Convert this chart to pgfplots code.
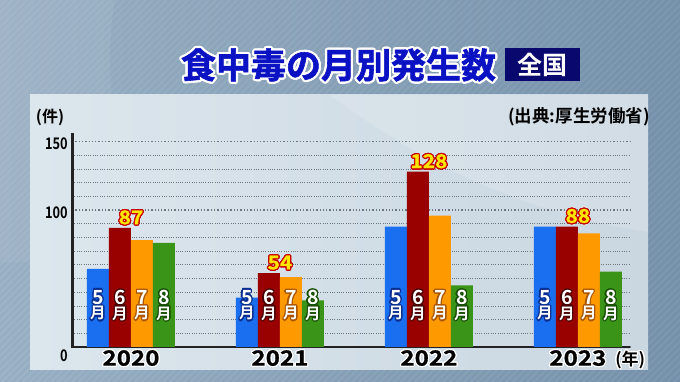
\documentclass[border=0pt]{standalone}
\usepackage{pgfplots}
\pgfplotsset{compat=1.18}
\usepackage{fontspec}
\usepackage{contour}
\newfontfamily\jp{Noto Sans CJK JP}
\newfontfamily\jpb{Noto Sans CJK JP Bold}
\newfontfamily\jpt{Noto Sans CJK JP Bold}[FakeBold=1.6]
\newfontfamily\jpy{Noto Sans CJK JP Bold}[FakeBold=0.8]
\definecolor{bgL}{HTML}{98AFC3}
\definecolor{bgR}{HTML}{7490AA}
\definecolor{panL}{HTML}{DCE6ED}
\definecolor{panR}{HTML}{CAD7E1}
\definecolor{titleblue}{HTML}{0A12C4}
\definecolor{navy}{HTML}{08086E}
\definecolor{axisc}{HTML}{222222}
\definecolor{gridc}{HTML}{6E7780}
\definecolor{cA}{HTML}{1A6FF0}
\definecolor{cB}{HTML}{990000}
\definecolor{cC}{HTML}{FF9900}
\definecolor{cD}{HTML}{3A9418}
\definecolor{cAd}{HTML}{0A2E90}
\definecolor{cBd}{HTML}{4A0000}
\definecolor{cCd}{HTML}{A85400}
\definecolor{cDd}{HTML}{164E00}
\definecolor{vyel}{HTML}{FFE600}
\definecolor{vred}{HTML}{C80000}
\contourlength{1.2pt}
\newcommand\mlab[4]{\node[text=white, inner sep=0pt, align=center, xshift=#2pt] at (axis cs:#1,30.1)
  {{\jpb\fontsize{19.5}{16.5}\selectfont\contour{#3}{#4}}\\{\jpb\fontsize{15.5}{16.5}\selectfont\contour{#3}{月}}};}
\newcommand\mgroup[1]{\mlab{#1}{-33}{cAd}{5}\mlab{#1}{-11}{cBd}{6}\mlab{#1}{11}{cCd}{7}\mlab{#1}{33}{cDd}{8}}
\begin{document}
\begin{tikzpicture}[x=1pt,y=1pt]
\begin{scope}
\clip (0,0) rectangle (680,382);
\shade[left color=bgL, right color=bgR] (0,0) rectangle (680,382);
\fill[white, opacity=0.06] (0,382) -- (115,382) .. controls (100,300) and (120,200) .. (160,120) -- (0,120) -- cycle;
\foreach \i in {-390,-383,...,680} {\draw[white, opacity=0.07, line width=1.6pt] (\i,0) -- ++(382,382);}
\end{scope}
\shade[left color=panL, right color=panR] (30,12) rectangle (648,287);
\fill[white, opacity=0.15] (330,287) .. controls (420,220) and (520,170) .. (648,150) -- (648,287) -- cycle;
% title
\node[text=titleblue, inner sep=0pt, font=\jpt\fontsize{35}{35}\selectfont] at (338.5,316)
  {\contourlength{2.2pt}\contour{white}{食中毒の月別発生数}};
\node[fill=navy, text=white, inner sep=0pt, minimum width=75pt, minimum height=33pt,
  font=\jpb\fontsize{25}{25}\selectfont] at (542.5,317.5) {全国};
\node[inner sep=0pt, font=\jpb\fontsize{16}{16}\selectfont, text=black] at (50,265) {(件)};
\node[inner sep=0pt, font=\jpb\fontsize{17.5}{17.5}\selectfont, text=black] at (579,265) {(出典:厚生労働省)};
\begin{axis}[
  at={(72pt,35pt)}, anchor=south west,
  scale only axis, width=558pt, height=214pt,
  xmin=-0.396, xmax=3.35, ymin=0, ymax=156.3,
  axis x line*=bottom, axis y line*=left,
  axis line style={line width=2.6pt, draw=axisc, -},
  major tick length=0pt, minor tick length=0pt,
  xtick={0,1,2,3},
  xticklabels={\hbox{\contour{white}{\scalebox{1.15}[1]{2020}}},\hbox{\contour{white}{\scalebox{1.15}[1]{2021}}},\hbox{\contour{white}{\scalebox{1.15}[1]{2022}}},\hbox{\contour{white}{\scalebox{1.15}[1]{2023}}}},
  xticklabel style={anchor=north, yshift=-3pt, inner sep=0pt, font=\jpy\fontsize{21}{21}\selectfont, text=black},
  ytick={0,100,150},
  yticklabels={\hbox{\raisebox{-6pt}[12pt][0pt]{\scalebox{0.8}[1]{0}}},\hbox{\scalebox{0.8}[1]{100}},\hbox{\scalebox{0.8}[1]{150}}},
  yticklabel style={anchor=east, xshift=-4pt, yshift=-2.5pt, inner sep=0pt, font=\jpb\fontsize{16}{16}\selectfont, text=black},
  minor ytick={10,20,30,40,50,60,70,80,90,110,120,130,140},
  ymajorgrids, yminorgrids,
  major grid style={draw=gridc, line width=1.3pt, dash pattern=on 1.3pt off 2pt},
  minor grid style={draw=gridc, line width=0.7pt, dash pattern=on 0.7pt off 1.6pt},
  clip=false,
]
\addplot[ybar, fill=cA, draw=none, bar width=0.1477, bar shift=-0.2215] coordinates {(0,57) (1,36) (2,88) (3,88)};
\addplot[ybar, fill=cB, draw=none, bar width=0.1477, bar shift=-0.0738,
  point meta=explicit symbolic, nodes near coords={\contour{vred}{\scalebox{1.1}[1]{\pgfplotspointmeta}}},
  every node near coord/.append style={text=vyel, font=\jpy\fontsize{19}{19}\selectfont, inner sep=2pt, anchor=south}]
  coordinates {(0,87)[87] (1,54)[54] (2,128)[128] (3,88)[88]};
\addplot[ybar, fill=cC, draw=none, bar width=0.1477, bar shift=0.0738] coordinates {(0,78) (1,51) (2,96) (3,83)};
\addplot[ybar, fill=cD, draw=none, bar width=0.1477, bar shift=0.2215] coordinates {(0,76) (1,34) (2,45) (3,55)};
\mgroup{0}\mgroup{1}\mgroup{2}\mgroup{3}
\node[inner sep=0pt, font=\jpb\fontsize{17}{17}\selectfont, text=black, anchor=west] at (axis cs:3.25,-9.8) {\contour{white}{(年)}};
\end{axis}
\draw[axisc, line width=3pt] (72,33.5) -- (72,249);
\pgfresetboundingbox
\path[use as bounding box] (0,0) rectangle (680,382);
\end{tikzpicture}
\end{document}
